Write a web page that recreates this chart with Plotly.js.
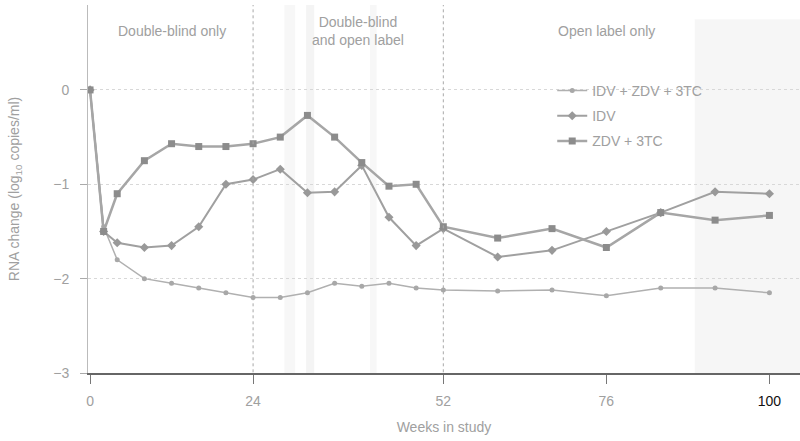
<!DOCTYPE html>
<html>
<head>
<meta charset="utf-8">
<script src="https://cdn.plot.ly/plotly-3.0.1.min.js"></script>
<style>html,body{margin:0;padding:0;background:#fff;}#chart{width:800px;height:441px;}</style>
</head>
<body>
<div id="chart"></div>
<script>
// Weeks in study
const weeks = [0, 2, 4, 8, 12, 16, 20, 24, 28, 32, 36, 40, 44, 48, 52, 60, 68, 76, 84, 92, 100];
// RNA change (log10 copies/ml)
const tripleIdvZdv3tc = [0, -1.45, -1.8, -2.0, -2.05, -2.1, -2.15, -2.2, -2.2, -2.15, -2.05, -2.08, -2.05, -2.1, -2.12, -2.13, -2.12, -2.18, -2.1, -2.1, -2.15];
const idvOnly = [0, -1.5, -1.62, -1.67, -1.65, -1.45, -1.0, -0.95, -0.84, -1.09, -1.08, -0.8, -1.35, -1.65, -1.47, -1.77, -1.7, -1.5, -1.3, -1.08, -1.1];
const zdv3tc = [0, -1.5, -1.1, -0.75, -0.57, -0.6, -0.6, -0.57, -0.5, -0.27, -0.5, -0.77, -1.02, -1.0, -1.45, -1.57, -1.47, -1.67, -1.3, -1.38, -1.33];

const seriesNames = ["IDV + ZDV + 3TC", "IDV", "ZDV + 3TC"];
const xTickVals = [0, 24, 52, 76, 100];
const xTickText = ["0", "24", "52", "76", "<span style=\"color:#111\">100</span>"];
const yTickVals = [0, -1, -2, -3];
const phaseLabels = ["Double-blind only", "Double-blind<br>and open label", "Open label only"];
const phaseX = [12, 39.5, 76];
const phaseBounds = [24, 52];

const txt = "#a0a0a0";
const fontFam = "Liberation Sans, Arial, sans-serif";

const traces = [
  {x: weeks, y: tripleIdvZdv3tc, name: seriesNames[0], legendgroup: "a", mode: "lines+markers",
   line: {color: "#b0b0b0", width: 1.5}, marker: {symbol: "circle", size: 5, color: "#a8a8a8"}},
  {x: weeks, y: idvOnly, name: seriesNames[1], legendgroup: "b", mode: "lines+markers",
   line: {color: "#a0a0a0", width: 2}, marker: {symbol: "diamond", size: 7, color: "#999"}},
  {x: weeks, y: zdv3tc, name: seriesNames[2], legendgroup: "c", mode: "lines+markers",
   line: {color: "#a6a6a6", width: 2.5}, marker: {symbol: "square", size: 7, color: "#8c8c8c"}}
];

const shapes = [
  {type: "rect", xref: "x", yref: "y", x0: 89, x1: 104.5, y0: -3, y1: 0.75, fillcolor: "rgba(0,0,0,0.035)", line: {width: 0}, layer: "below"},
  {type: "rect", xref: "x", yref: "y", x0: 28.6, x1: 30.2, y0: -3, y1: 0.9, fillcolor: "rgba(0,0,0,0.03)", line: {width: 0}, layer: "below"},
  {type: "rect", xref: "x", yref: "y", x0: 31.8, x1: 33.0, y0: -3, y1: 0.9, fillcolor: "rgba(0,0,0,0.045)", line: {width: 0}, layer: "below"},
  {type: "rect", xref: "x", yref: "y", x0: 41.2, x1: 42.2, y0: -3, y1: 0.9, fillcolor: "rgba(0,0,0,0.03)", line: {width: 0}, layer: "below"}
];
phaseBounds.forEach(b => shapes.push({type: "line", xref: "x", yref: "y", x0: b, x1: b, y0: -3.12, y1: 0.9,
  line: {color: "#a8a8a8", width: 1, dash: "dot"}}));

const annotations = phaseLabels.map((t, i) => ({
  text: t, x: phaseX[i], y: 0.62, xref: "x", yref: "y", showarrow: false,
  font: {family: fontFam, size: 14, color: txt}, align: "center"
}));

const layout = {
  width: 800, height: 441,
  margin: {l: 88, r: 0, t: 5, b: 68},
  paper_bgcolor: "#fff", plot_bgcolor: "#fff",
  font: {family: fontFam, size: 14, color: txt},
  showlegend: true,
  legend: {x: 0.652, y: 0.81, xanchor: "left", yanchor: "top", bgcolor: "rgba(0,0,0,0)",
    font: {family: fontFam, size: 14, color: txt}, traceorder: "grouped", tracegroupgap: 4},
  xaxis: {range: [-0.3, 104.5], tickvals: xTickVals, ticktext: xTickText, ticks: "outside", ticklen: 9,
    tickcolor: "#777", showline: true, linecolor: "#666", linewidth: 1.5, showgrid: false, zeroline: false,
    ticklabelstandoff: 6, tickfont: {size: 14, color: txt},
    title: {text: "Weeks in study", font: {size: 14, color: txt}, standoff: 14}},
  yaxis: {range: [-3, 0.9], tickvals: yTickVals, ticks: "outside", ticklen: 7, tickcolor: "#aaa",
    showline: true, linecolor: "#bbb", linewidth: 1, showgrid: true, gridcolor: "#d8d8d8", griddash: "dot",
    zeroline: false, ticklabelstandoff: 8, tickfont: {size: 14, color: txt},
    title: {text: "RNA change (log<sub>10</sub> copies/ml)", font: {size: 14, color: txt}, standoff: 30}},
  shapes: shapes,
  annotations: annotations
};

Plotly.newPlot("chart", traces, layout, {displayModeBar: false, staticPlot: true});
</script>
</body>
</html>
